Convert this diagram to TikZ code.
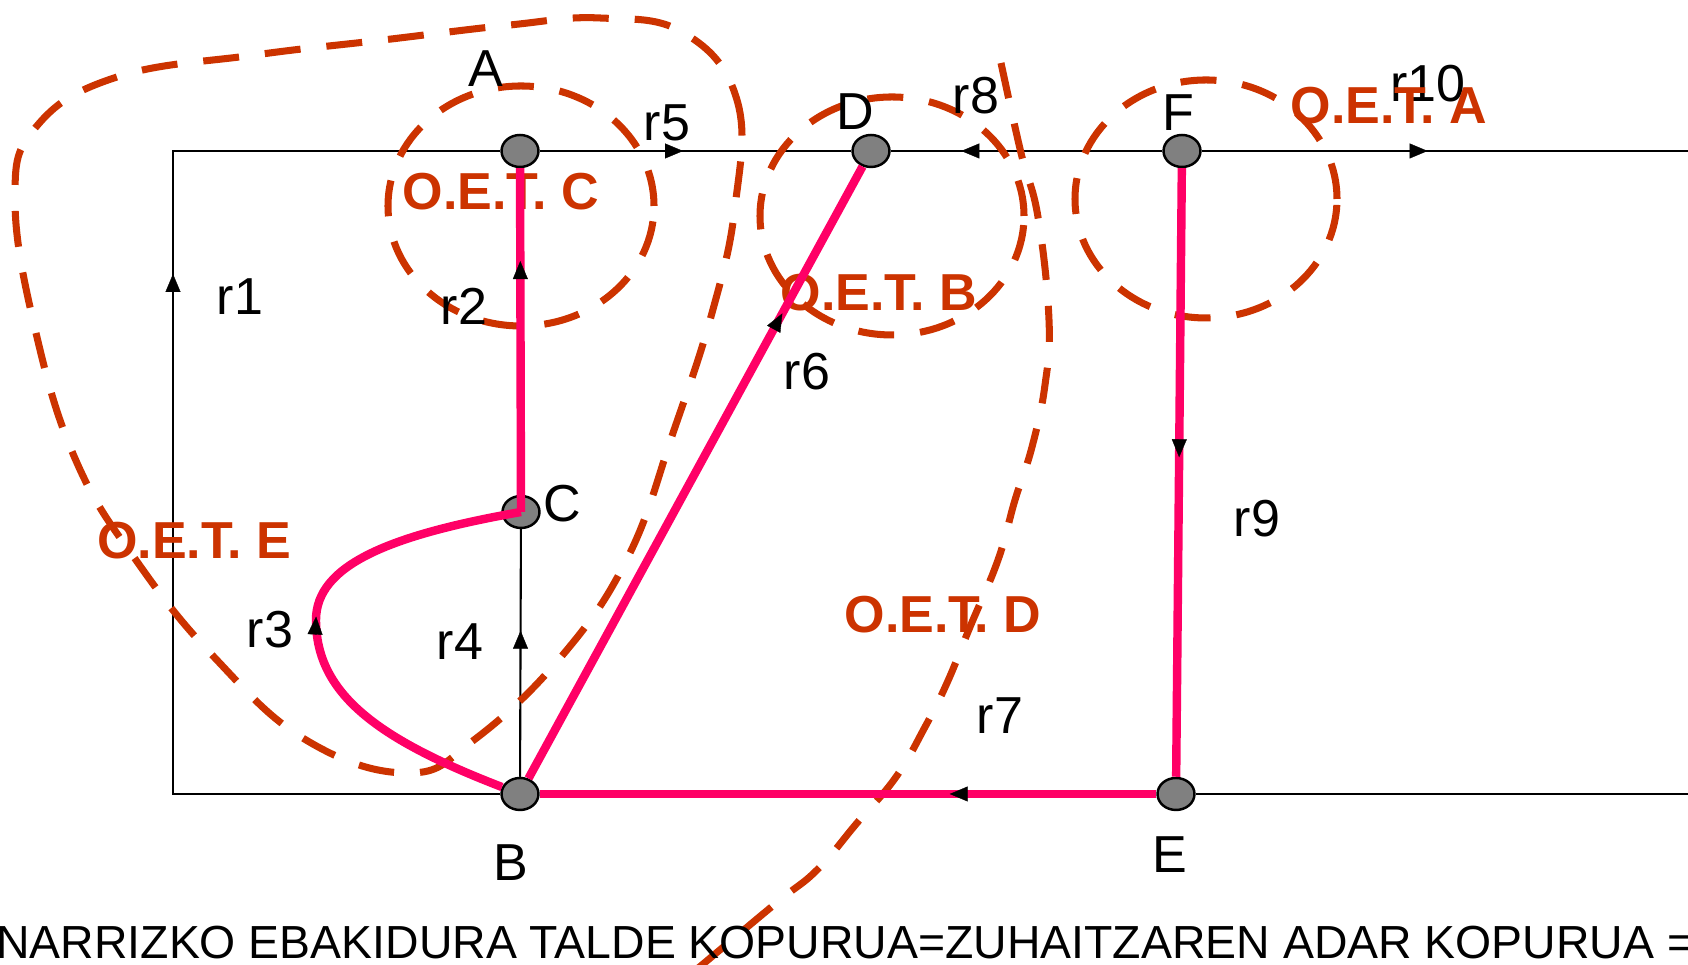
\documentclass[tikz,border=0pt]{standalone}
\usepackage{fontspec}
\setmainfont{Liberation Sans}
\usetikzlibrary{arrows.meta, decorations.markings, shapes.geometric, positioning}
\definecolor{oetred}{RGB}{204,51,0}
\definecolor{treepink}{RGB}{255,0,102}

\begin{document}
\begin{tikzpicture}[
	vertex/.style={ellipse, draw, fill=gray, line width=0.7pt, minimum width=0.37cm, minimum height=0.32cm, inner sep=0pt},
	lbl/.style={inner sep=0pt, font=\fontsize{14.8}{17}\selectfont},
	oetlbl/.style={inner sep=0pt, text=oetred, font=\fontsize{14.8}{17}\selectfont\bfseries},
	link/.style={line width=0.6pt},
	branch/.style={line width=2.4pt, treepink},
	cutset/.style={line width=2pt, oetred, dash pattern=on 0.36cm off 0.26cm},
	dirarrow/.style={postaction={decorate}, decoration={markings, mark=at position #1 with {\arrow{Triangle[length=1.8mm, width=1.5mm, color=black, line width=0.1pt]}}}}
	]
	\useasboundingbox (0,0) rectangle (16.88,9.65);
	\clip (0,0) rectangle (16.88,9.65);

	% vertices
	\node[vertex] (A) at (5.20,8.14) {};
	\node[vertex] (D) at (8.71,8.14) {};
	\node[vertex] (F) at (11.82,8.14) {};
	\node[vertex] (C) at (5.21,4.53) {};
	\node[vertex] (B) at (5.20,1.71) {};
	\node[vertex] (E) at (11.76,1.71) {};
	\coordinate (bl) at (1.73,1.71);
	\coordinate (tl) at (1.73,8.14);
	\coordinate (tr) at (17.2,8.14);
	\coordinate (br) at (17.2,1.71);

	% links
	\draw[link, dirarrow=0.653] (B) -- (bl) -- (tl) -- (A);
	\draw[link, dirarrow=0.46] (A) -- (D);
	\draw[link, dirarrow=0.74] (F) -- (D);
	\draw[link, dirarrow=0.134] (F) -- (tr) -- (br) -- (E);
	\draw[link, dirarrow=0.59] (B) -- (C);

	% cut sets
	\draw[cutset] (5.21,7.59) ellipse [x radius=1.33, y radius=1.20];
	\draw[cutset] (8.92,7.49) ellipse [x radius=1.32, y radius=1.19];
	\draw[cutset] (12.06,7.66) ellipse [x radius=1.31, y radius=1.19];
	\draw[cutset] plot[smooth cycle, tension=0.7] coordinates {(6.84,9.32) (7.37,8.65) (7.35,7.58) (7.12,6.52) (6.73,5.32) (6.28,4.08) (5.61,3.08) (4.74,2.25) (4.08,1.92) (3.06,2.25) (2.14,3.08) (1.38,4.02) (0.77,5.02) (0.36,6.32) (0.15,7.65) (0.36,8.38) (1.17,8.88) (2.55,9.10) (3.83,9.25) (5.10,9.40) (6.00,9.47)};
	\draw[cutset] plot[smooth, tension=0.7] coordinates {(10.01,9.02) (10.21,8.12) (10.38,7.48) (10.49,6.45) (10.45,5.80) (10.32,5.18) (10.15,4.65) (9.98,4.05) (9.70,3.38) (9.47,2.82) (9.25,2.38) (8.96,1.88) (8.57,1.42) (8.17,0.95) (7.75,0.61) (6.90,-0.10)};

	% labels
	\node[lbl] (lA) at (4.86,8.96) {A};
	\node[lbl] (lD) at (8.55,8.53) {D};
	\node[lbl] (lF) at (11.78,8.52) {F};
	\node[lbl] (lC) at (5.62,4.61) {C};
	\node[lbl] (lB) at (5.11,1.02) {B};
	\node[lbl] (lE) at (11.70,1.10) {E};
	\node[lbl] (r1) at (2.40,6.68) {r1};
	\node[lbl] (r2) at (4.64,6.59) {r2};
	\node[lbl] (r3) at (2.70,3.35) {r3};
	\node[lbl] (r4) at (4.60,3.23) {r4};
	\node[lbl] (r5) at (6.67,8.42) {r5};
	\node[lbl] (r6) at (8.07,5.93) {r6};
	\node[lbl] (r7) at (10.00,2.49) {r7};
	\node[lbl] (r8) at (9.76,8.69) {r8};
	\node[lbl] (r9) at (12.57,4.46) {r9};
	\node[lbl] (r10) at (14.28,8.81) {r10};
	\node[oetlbl] (oetA) at (13.89,8.59) {O.E.T. A};
	\node[oetlbl] (oetB) at (8.79,6.72) {O.E.T. B};
	\node[oetlbl] (oetC) at (5.01,7.73) {O.E.T. C};
	\node[oetlbl] (oetD) at (9.43,3.50) {O.E.T. D};
	\node[oetlbl] (oetE) at (1.94,4.24) {O.E.T. E};

	% tree branches
	\draw[branch, dirarrow=0.73] (C.center) -- (A);
	\draw[branch, dirarrow=0.525] (B) .. controls (3.8,2.25) and (3.16,2.7) .. (3.16,3.45) .. controls (3.16,4.0) and (3.9,4.3) .. (C.center);
	\draw[branch, dirarrow=0.76] (B) -- (D);
	\draw[branch, dirarrow=0.335] (E) -- (B);
	\draw[branch, dirarrow=0.475] (F) -- (E);

	\node[inner sep=0pt, anchor=base east, font=\fontsize{13.2}{15}\selectfont] (total) at (16.95,0.06) {NARRIZKO EBAKIDURA TALDE KOPURUA=ZUHAITZAREN ADAR KOPURUA =};
\end{tikzpicture}
\end{document}
